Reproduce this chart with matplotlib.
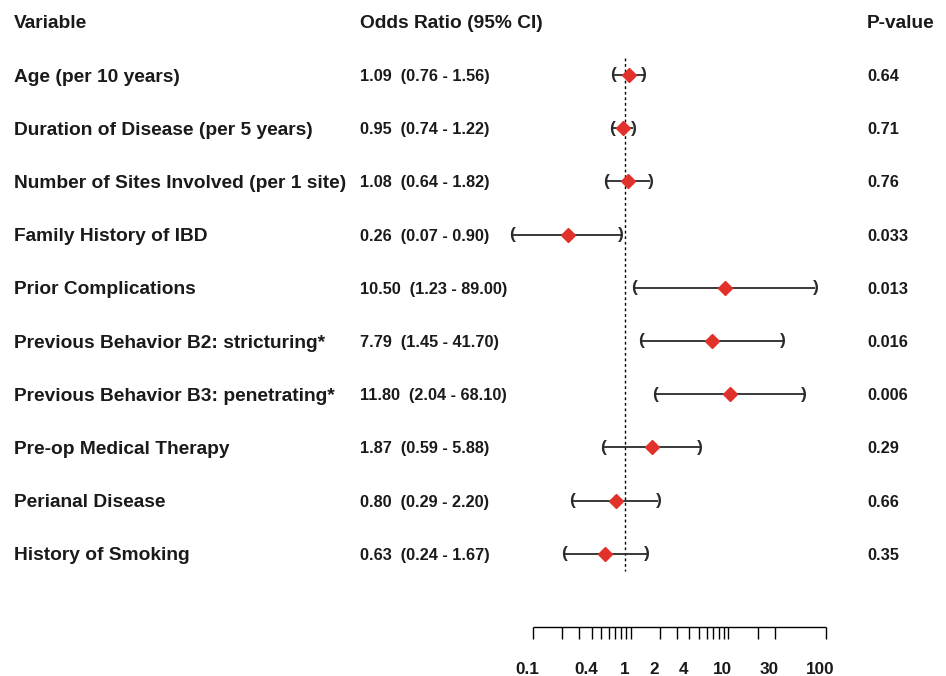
import matplotlib
matplotlib.use("Agg")
import matplotlib.pyplot as plt
import matplotlib.transforms as mtransforms
import numpy as np

variables = [
    "Age (per 10 years)",
    "Duration of Disease (per 5 years)",
    "Number of Sites Involved (per 1 site)",
    "Family History of IBD",
    "Prior Complications",
    "Previous Behavior B2: stricturing*",
    "Previous Behavior B3: penetrating*",
    "Pre-op Medical Therapy",
    "Perianal Disease",
    "History of Smoking",
]
odds_ratio = [1.09, 0.95, 1.08, 0.26, 10.50, 7.79, 11.80, 1.87, 0.80, 0.63]
ci_lower = [0.76, 0.74, 0.64, 0.07, 1.23, 1.45, 2.04, 0.59, 0.29, 0.24]
ci_upper = [1.56, 1.22, 1.82, 0.90, 89.00, 41.70, 68.10, 5.88, 2.20, 1.67]
p_values = ["0.64", "0.71", "0.76", "0.033", "0.013", "0.016", "0.006", "0.29", "0.66", "0.35"]

tick_values = [0.1, 0.2, 0.3, 0.4, 0.5, 0.6, 0.7, 0.8, 0.9, 1,
               2, 3, 4, 5, 6, 7, 8, 9, 10, 20, 30, 100]
tick_label_values = [0.1, 0.4, 1, 2, 4, 10, 30, 100]
tick_label_text = ["0.1", "0.4", "1", "2", "4", "10", "30", "100"]

W, H = 946, 676
fig = plt.figure(figsize=(W / 100, H / 100), dpi=100)
fig.patch.set_facecolor("white")

# axes: x from 0.1 (px 527.3) to 100 (px 820.4); y rows
x0_px, x1_px = 527.3, 820.4
ax = fig.add_axes([x0_px / W, 0, (x1_px - x0_px) / W, 1])
ax.set_xscale("log")
ax.set_xlim(0.1, 100)
row0_px, row_step = 75.0, 53.2
ax.set_ylim((H - row0_px) / row_step, -row0_px / row_step)
ax.axis("off")

txt_color = "#1a1a1a"
font = ["Liberation Sans", "DejaVu Sans"]

n = len(variables)
rows = np.arange(n)

# dotted reference line at OR = 1
ax.plot([1, 1], [-0.32, 9.32], color="black", lw=1.0, ls=(0, (2, 2)), zorder=1)

# CI lines
ax.hlines(rows, ci_lower, ci_upper, color="#2a2a2a", lw=1.3, zorder=2, clip_on=False)
for i in range(n):
    ax.text(ci_lower[i], rows[i], "(", ha="center", va="center", fontsize=12.5,
            color="#2a2a2a", family=font, fontweight="bold", zorder=3)
    ax.text(ci_upper[i], rows[i], ")", ha="center", va="center", fontsize=12.5,
            color="#2a2a2a", family=font, fontweight="bold", zorder=3)
ax.plot(odds_ratio, rows, ls="none", marker="D", ms=6.8, color="#e2302a",
        mec="#e2302a", zorder=4, clip_on=False)

# text columns (figure coords)
def fy(y_px):
    return 1 - y_px / H

hdr_size = 13.8
fig.text(14 / W, fy(22), "Variable", ha="left", va="center_baseline", fontsize=hdr_size,
         fontweight="bold", family=font, color=txt_color)
fig.text(360 / W, fy(22), "Odds Ratio (95% CI)", ha="left", va="center_baseline", fontsize=hdr_size,
         fontweight="bold", family=font, color=txt_color)
fig.text(867 / W, fy(22), "P-value", ha="left", va="center_baseline", fontsize=hdr_size,
         fontweight="bold", family=font, color=txt_color)

for i in range(n):
    ypx = row0_px + row_step * i
    fig.text(14 / W, fy(ypx), variables[i], ha="left", va="center_baseline", fontsize=13.8,
             fontweight="bold", family=font, color=txt_color)
    or_txt = f"{odds_ratio[i]:.2f}  ({ci_lower[i]:.2f} - {ci_upper[i]:.2f})"
    fig.text(360 / W, fy(ypx), or_txt, ha="left", va="center_baseline", fontsize=11.7,
             fontweight="bold", family=font, color=txt_color)
    fig.text(867 / W, fy(ypx), p_values[i], ha="left", va="center_baseline", fontsize=11.8,
             fontweight="bold", family=font, color=txt_color)

# bottom axis (ticks shifted slightly right, as in reference)
axis_y = (627 - row0_px) / row_step
tick_len = 12 / row_step
shift = mtransforms.ScaledTranslation(5.5 / 100, 0, fig.dpi_scale_trans)
tr = ax.transData + shift
ax.plot([tick_values[0], tick_values[-1]], [axis_y, axis_y], color="black",
        lw=1.0, transform=tr, clip_on=False, solid_capstyle="butt")
for t in tick_values:
    ax.plot([t, t], [axis_y, axis_y + tick_len], color="black", lw=1.0,
            transform=tr, clip_on=False, solid_capstyle="butt")
label_y = (668 - row0_px) / row_step
for v, s in zip(tick_label_values, tick_label_text):
    ax.text(v, label_y, s, ha="center", va="center_baseline", fontsize=12.3,
            fontweight="bold", family=font, color=txt_color, clip_on=False)

fig.savefig("out.png", dpi=100, facecolor="white")
